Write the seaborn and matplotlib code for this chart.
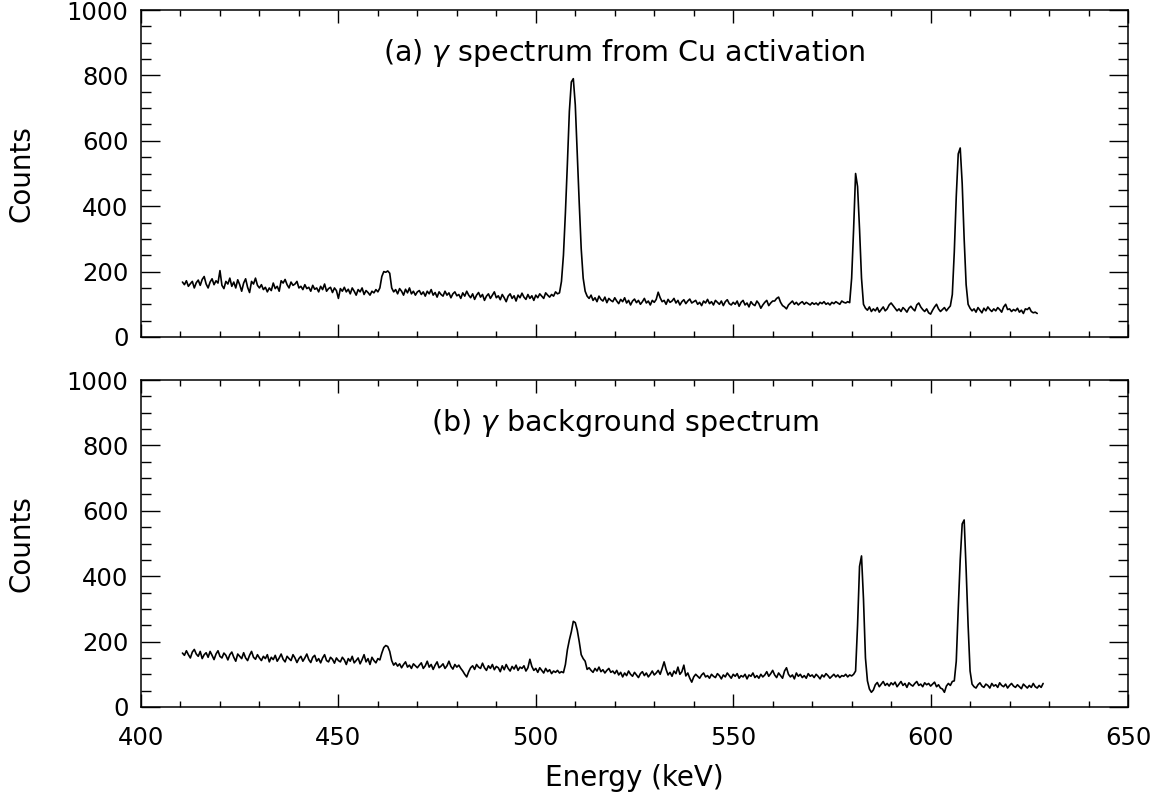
# =========================================================
# GAMMA SPECTRA: Cu ACTIVATION vs BACKGROUND
# =========================================================

import numpy as np
import pandas as pd
import matplotlib
matplotlib.use("Agg")
import matplotlib.pyplot as plt
import seaborn as sns
from matplotlib.ticker import MultipleLocator

# =========================================================
# DATA (0.5 keV channels)
# =========================================================

channel_width = 0.5

start_a = 410.5
counts_a = [
    168, 160, 172, 155, 163, 170, 150, 166, 174, 158, 176, 185, 162, 150, 168, 178, 160, 172, 165, 203,
    158, 148, 170, 162, 180, 155, 168, 150, 175, 160, 140, 165, 178, 152, 136, 170, 162, 180, 158, 150,
    160, 145, 152, 138, 150, 142, 165, 148, 155, 140, 172, 165, 176, 160, 150, 168, 158, 162, 170, 150,
    155, 145, 160, 148, 152, 140, 158, 146, 150, 138, 155, 145, 162, 140, 148, 152, 136, 150, 142, 118,
    148, 140, 152, 138, 146, 132, 150, 140, 128, 145, 138, 150, 130, 142, 136, 128, 140, 135, 145, 138,
    150, 185, 200, 198, 202, 195, 150, 138, 145, 132, 148, 140, 128, 146, 135, 150, 132, 140, 128, 138,
    142, 130, 138, 125, 140, 132, 145, 128, 136, 122, 138, 130, 125, 140, 128, 135, 120, 132, 138, 126,
    130, 118, 135, 125, 140, 128, 120, 132, 115, 128, 136, 122, 130, 112, 125, 132, 118, 128, 138, 120,
    126, 114, 130, 120, 108, 125, 132, 118, 126, 110, 128, 120, 134, 122, 115, 130, 118, 126, 112, 128,
    120, 132, 125, 118, 135, 128, 122, 130, 125, 138, 132, 135, 170, 250, 380, 530, 690, 780, 790, 710,
    560, 410, 270, 180, 140, 125, 118, 128, 112, 120, 108, 125, 115, 110, 122, 105, 118, 112, 108, 120,
    110, 102, 115, 108, 120, 104, 112, 98, 110, 116, 105, 112, 100, 108, 118, 104, 110, 98, 112, 106,
    115, 137, 120, 108, 112, 100, 115, 106, 110, 118, 104, 112, 98, 108, 114, 102, 110, 116, 104, 108,
    112, 100, 106, 96, 110, 104, 115, 102, 108, 98, 112, 106, 100, 110, 96, 108, 114, 102, 98, 106,
    100, 110, 94, 106, 112, 98, 104, 92, 108, 100, 96, 110, 102, 88, 98, 106, 112, 96, 104, 110,
    110, 118, 122, 106, 96, 92, 86, 98, 104, 110, 100, 106, 98, 104, 108, 100, 106, 102, 98, 105,
    100, 104, 98, 106, 102, 108, 100, 104, 98, 106, 102, 108, 104, 100, 110, 106, 104, 108, 105, 180,
    330, 500, 460, 330, 180, 100, 88, 82, 92, 78, 86, 80, 90, 76, 84, 92, 80, 86, 98, 104,
    96, 88, 80, 86, 78, 90, 84, 76, 88, 94, 86, 80, 98, 104, 92, 84, 78, 86, 74, 70,
    82, 92, 100, 86, 78, 84, 90, 80, 88, 95, 130, 260, 430, 560, 578, 470, 300, 160, 100, 88,
    80, 86, 76, 90, 82, 74, 88, 80, 92, 84, 78, 86, 80, 90, 84, 76, 92, 100, 84, 86,
    78, 84, 80, 88, 76, 82, 72, 86, 84, 90, 78, 74, 76, 72,
]

start_b = 410.5
counts_b = [
    165, 158, 172, 160, 150, 168, 176, 162, 155, 170, 148, 160, 166, 152, 170, 158, 145, 162, 172, 155,
    150, 165, 158, 144, 160, 168, 152, 140, 162, 155, 148, 166, 150, 142, 158, 170, 152, 146, 160, 150,
    142, 155, 148, 160, 138, 152, 145, 158, 140, 150, 162, 146, 138, 155, 148, 142, 160, 150, 136, 148,
    155, 140, 150, 162, 145, 136, 152, 158, 140, 148, 135, 150, 160, 142, 138, 152, 146, 134, 150, 142,
    138, 152, 144, 130, 148, 140, 155, 135, 142, 150, 132, 145, 160, 138, 148, 130, 152, 142, 135, 148,
    144, 165, 182, 188, 185, 170, 142, 128, 135, 125, 132, 120, 130, 138, 122, 128, 118, 132, 126, 120,
    128, 135, 118, 126, 140, 122, 130, 115, 128, 138, 120, 125, 132, 118, 126, 140, 124, 116, 130, 122,
    128, 118, 110, 100, 92, 108, 120, 126, 115, 130, 122, 118, 134, 120, 112, 126, 118, 130, 114, 124,
    120, 108, 126, 114, 130, 118, 110, 124, 116, 128, 112, 122, 118, 126, 110, 120, 146, 124, 112, 118,
    106, 120, 112, 104, 118, 108, 114, 102, 110, 106, 112, 104, 108, 105, 130, 175, 205, 230, 262, 258,
    235, 200, 160, 148, 140, 115, 120, 112, 106, 118, 110, 122, 108, 114, 104, 112, 118, 106, 110, 102,
    112, 98, 106, 92, 104, 96, 110, 100, 94, 106, 98, 90, 102, 108, 96, 104, 92, 100, 110, 98,
    104, 112, 100, 118, 138, 115, 98, 106, 94, 110, 102, 122, 100, 108, 128, 95, 104, 88, 76, 92,
    100, 94, 88, 98, 104, 92, 96, 88, 100, 94, 90, 102, 96, 86, 98, 92, 104, 96, 88, 100,
    94, 102, 88, 96, 92, 100, 86, 98, 94, 104, 90, 96, 88, 100, 92, 98, 108, 94, 102, 112,
    98, 90, 104, 96, 88, 110, 120, 100, 92, 98, 86, 104, 94, 100, 90, 96, 88, 102, 94, 98,
    90, 100, 94, 86, 98, 92, 102, 96, 88, 94, 100, 92, 98, 90, 96, 94, 100, 92, 98, 95,
    100, 110, 250, 430, 462, 330, 150, 80, 55, 45, 52, 68, 75, 62, 70, 78, 66, 72, 64, 74,
    68, 76, 62, 70, 78, 66, 72, 60, 74, 68, 64, 72, 78, 66, 70, 62, 74, 68, 72, 64,
    70, 76, 62, 68, 58, 55, 45, 64, 72, 66, 78, 80, 140, 300, 450, 560, 572, 420, 250, 110,
    70, 62, 58, 68, 74, 64, 60, 70, 66, 58, 72, 64, 68, 60, 74, 66, 62, 70, 58, 66,
    72, 64, 60, 68, 62, 56, 70, 64, 58, 66, 60, 72, 62, 58, 66, 60, 72,
]

panel_titles = [
    r"(a) $\gamma$ spectrum from Cu activation",
    r"(b) $\gamma$ background spectrum",
]

df_a = pd.DataFrame({
    "energy": start_a + channel_width * np.arange(len(counts_a)),
    "counts": counts_a,
})

df_b = pd.DataFrame({
    "energy": start_b + channel_width * np.arange(len(counts_b)),
    "counts": counts_b,
})

# =========================================================
# STYLE
# =========================================================

sns.set_style("ticks")
plt.rcParams["font.family"] = ["DejaVu Sans"]
plt.rcParams["mathtext.fontset"] = "dejavusans"
plt.rcParams["text.color"] = "black"
plt.rcParams["axes.labelcolor"] = "black"

W, H = 1154, 795

fig = plt.figure(figsize=(W / 100, H / 100), dpi=100)

ax_a = fig.add_axes([141 / W, 1 - 337 / H, 987 / W, 327 / H])
ax_b = fig.add_axes([141 / W, 1 - 707 / H, 987 / W, 327 / H])

# =========================================================
# PLOT
# =========================================================

for ax, df, title in [(ax_a, df_a, panel_titles[0]), (ax_b, df_b, panel_titles[1])]:

    sns.lineplot(
        data=df,
        x="energy",
        y="counts",
        color="black",
        linewidth=1.2,
        estimator=None,
        ax=ax
    )

    ax.set_xlim(400, 650)
    ax.set_ylim(0, 1000)

    ax.xaxis.set_major_locator(MultipleLocator(50))
    ax.xaxis.set_minor_locator(MultipleLocator(10))
    ax.yaxis.set_major_locator(MultipleLocator(200))
    ax.yaxis.set_minor_locator(MultipleLocator(50))

    ax.tick_params(axis="both", which="both", direction="in",
                   top=True, right=True, colors="black", width=1.0)
    ax.tick_params(axis="x", which="major", length=9.5)
    ax.tick_params(axis="x", which="minor", length=4.5)
    ax.tick_params(axis="y", which="major", length=14)
    ax.tick_params(axis="y", which="minor", length=7)
    ax.tick_params(axis="y", labelsize=17.5, pad=9)
    ax.tick_params(axis="x", labelsize=17.5, pad=14)

    for spine in ax.spines.values():
        spine.set_linewidth(1.1)
        spine.set_color("black")

    ax.text(0.49, 0.868, title, transform=ax.transAxes,
            ha="center", va="center", fontsize=20.5, color="black")

    ax.set_ylabel("Counts", fontsize=20)
    ax.yaxis.set_label_coords(-0.121, 0.5)
    ax.yaxis.label.set_va("center")
    ax.set_xlabel("")

ax_a.tick_params(axis="x", labelbottom=False)

ax_b.set_xlabel("Energy (keV)", fontsize=20, labelpad=10)

fig.savefig("out.png", dpi=100)
